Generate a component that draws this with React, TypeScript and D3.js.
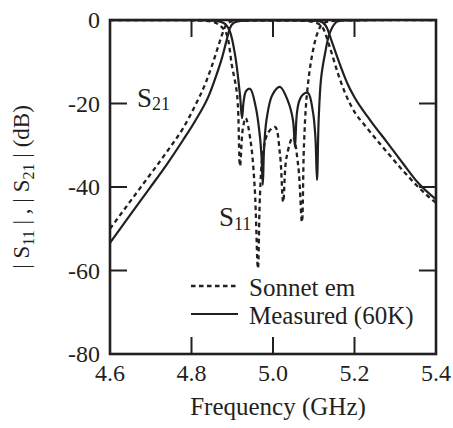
import React, { useEffect } from "react";
import * as d3 from "d3";

// measured (60K) curves
const measS21Freq = [4.6, 4.65, 4.698, 4.74, 4.779, 4.81, 4.843, 4.86, 4.875, 4.885, 4.894, 4.905, 4.92, 4.95, 5.05, 5.11, 5.122, 5.132, 5.142, 5.16, 5.184, 5.2, 5.24, 5.28, 5.32, 5.356, 5.4];
const measS21Db = [-53.4, -46.6, -40.2, -34.5, -28.8, -24, -18, -13.5, -9, -5.3, -2, -0.6, -0.2, -0.1, -0.1, -0.2, -0.6, -1.8, -4.5, -9.5, -15.5, -18.5, -24.2, -29.3, -34.5, -39, -43];

const measS11Freq = [4.6, 4.8, 4.85, 4.87, 4.883, 4.894, 4.907, 4.919, 4.924, 4.928, 4.934, 4.944, 4.958, 4.968, 4.972, 4.975, 4.978, 4.984, 4.998, 5.017, 5.037, 5.049, 5.054, 5.058, 5.064, 5.074, 5.086, 5.098, 5.104, 5.108, 5.112, 5.118, 5.127, 5.14, 5.157, 5.2, 5.4];
const measS11Db = [-0.02, -0.05, -0.15, -0.4, -1, -2.7, -8.4, -18, -23.5, -19.5, -17, -16.5, -21, -28, -33, -39.5, -31, -24, -18, -16, -19.5, -24, -30.4, -23, -19.5, -17.8, -17.5, -22, -28, -38.3, -24, -14, -8.4, -2.9, -0.4, -0.1, -0.02];

// Sonnet em curves
const simS21Freq = [4.6, 4.672, 4.74, 4.78, 4.81, 4.835, 4.85, 4.865, 4.875, 4.885, 4.9, 4.95, 5.05, 5.09, 5.103, 5.113, 5.123, 5.14, 5.16, 5.177, 5.194, 5.23, 5.27, 5.32, 5.378, 5.4];
const simS21Db = [-50, -40.5, -31.5, -25.8, -20.3, -15, -11, -6.5, -3.5, -1.2, -0.3, -0.15, -0.15, -0.3, -0.6, -1, -2, -6.7, -13, -17.5, -21, -25.8, -30.5, -36.2, -42, -43.8];

const simS11Freq = [4.6, 4.8, 4.85, 4.865, 4.877, 4.887, 4.899, 4.912, 4.919, 4.926, 4.933, 4.945, 4.955, 4.963, 4.968, 4.975, 4.988, 5.005, 5.017, 5.025, 5.033, 5.049, 5.062, 5.071, 5.076, 5.083, 5.096, 5.11, 5.123, 5.15, 5.2, 5.4];
const simS11Db = [-0.02, -0.1, -0.4, -1, -2, -3.6, -10.8, -18, -35, -26, -23.5, -29, -40, -59.5, -42, -32, -27, -25.6, -32, -43.6, -33, -28, -35, -48.4, -30, -18, -8.4, -2.9, -0.8, -0.2, -0.08, -0.02];

const xTicks = [4.6, 4.8, 5.0, 5.2, 5.4];
const yTicks = [0, -20, -40, -60, -80];
const legendLabels = ["Sonnet em", "Measured (60K)"];

const W = 453;
const H = 428;
const m = { left: 110, right: 17, top: 20, bottom: 74 };
const font = "Liberation Serif, Tinos, Times New Roman, DejaVu Serif, serif";
const ink = "#231f20";

const App = () => {
  useEffect(() => {
    document.body.style.margin = "0";
  }, []);

  const x = d3.scaleLinear().domain([4.6, 5.4]).range([m.left, W - m.right]);
  const y = d3.scaleLinear().domain([-80, 0]).range([H - m.bottom, m.top]);

  const s21Line = d3
    .line<[number, number]>()
    .x((d) => x(d[0]))
    .y((d) => y(d[1]))
    .curve(d3.curveMonotoneX);

  const s11Line = d3
    .line<[number, number]>()
    .x((d) => x(d[0]))
    .y((d) => y(d[1]))
    .curve(d3.curveCatmullRom.alpha(0.5));

  const zip = (f: number[], v: number[]) => f.map((d, i) => [d, v[i]] as [number, number]);

  const x0 = x(4.6), x1 = x(5.4), y0 = y(0), y1 = y(-80);
  const tickLen = 17;

  return (
    <svg width={W} height={H} style={{ display: "block", background: "#fff", fontFamily: font }}>
      <defs>
        <clipPath id="plot">
          <rect x={x0} y={y0} width={x1 - x0} height={y1 - y0} />
        </clipPath>
      </defs>

      <g clipPath="url(#plot)" fill="none" stroke={ink}>
        <path d={s21Line(zip(simS21Freq, simS21Db)) || ""} strokeWidth={2.3} strokeDasharray="4.5,3.5" />
        <path d={s11Line(zip(simS11Freq, simS11Db)) || ""} strokeWidth={2.3} strokeDasharray="4.5,3.5" />
        <path d={s21Line(zip(measS21Freq, measS21Db)) || ""} strokeWidth={2.2} />
        <path d={s11Line(zip(measS11Freq, measS11Db)) || ""} strokeWidth={2.2} />
      </g>

      {/* ticks, inward on all four sides */}
      <g stroke={ink} strokeWidth={2}>
        {xTicks.slice(1, -1).map((t) => (
          <g key={"xt" + t}>
            <line x1={x(t)} x2={x(t)} y1={y1} y2={y1 - tickLen} />
            <line x1={x(t)} x2={x(t)} y1={y0} y2={y0 + tickLen} />
          </g>
        ))}
        {yTicks.slice(1, -1).map((t) => (
          <g key={"yt" + t}>
            <line x1={x0} x2={x0 + tickLen} y1={y(t)} y2={y(t)} />
            <line x1={x1} x2={x1 - tickLen} y1={y(t)} y2={y(t)} />
          </g>
        ))}
      </g>
      <rect x={x0} y={y0} width={x1 - x0} height={y1 - y0} fill="none" stroke={ink} strokeWidth={2.6} />

      <g style={{ fontFamily: font }} fontSize={24} fill={ink}>
        {xTicks.map((t) => (
          <text key={"xl" + t} x={x(t)} y={381} textAnchor="middle">
            {t.toFixed(1)}
          </text>
        ))}
        {yTicks.map((t) => (
          <text key={"yl" + t} x={100} y={y(t)} dy="0.35em" textAnchor="end">
            {t}
          </text>
        ))}
        <text x={(x0 + x1) / 2 + 5} y={415} textAnchor="middle" fontSize={25}>
          Frequency (GHz)
        </text>
        <text transform={`translate(29,187) rotate(-90)`} textAnchor="middle" fontSize={23}>
          <tspan>| S</tspan>
          <tspan fontSize={16} dy={5}>11</tspan>
          <tspan dy={-5}> | , | S</tspan>
          <tspan fontSize={16} dy={5}>21</tspan>
          <tspan dy={-5}> | (dB)</tspan>
        </text>

        {/* curve labels */}
        <text x={137} y={107} fontSize={27}>
          S<tspan fontSize={18} dy={3}>21</tspan>
        </text>
        <text x={219} y={226} fontSize={27}>
          S<tspan fontSize={18} dy={4}>11</tspan>
        </text>

        {/* legend */}
        <line x1={191} x2={238} y1={286} y2={286} stroke={ink} strokeWidth={2.3} strokeDasharray="4.5,3.5" />
        <text x={249} y={296} fontSize={25}>{legendLabels[0]}</text>
        <line x1={191} x2={238} y1={314} y2={314} stroke={ink} strokeWidth={2.2} />
        <text x={249} y={324} fontSize={25}>{legendLabels[1]}</text>
      </g>
    </svg>
  );
};

export default App;
